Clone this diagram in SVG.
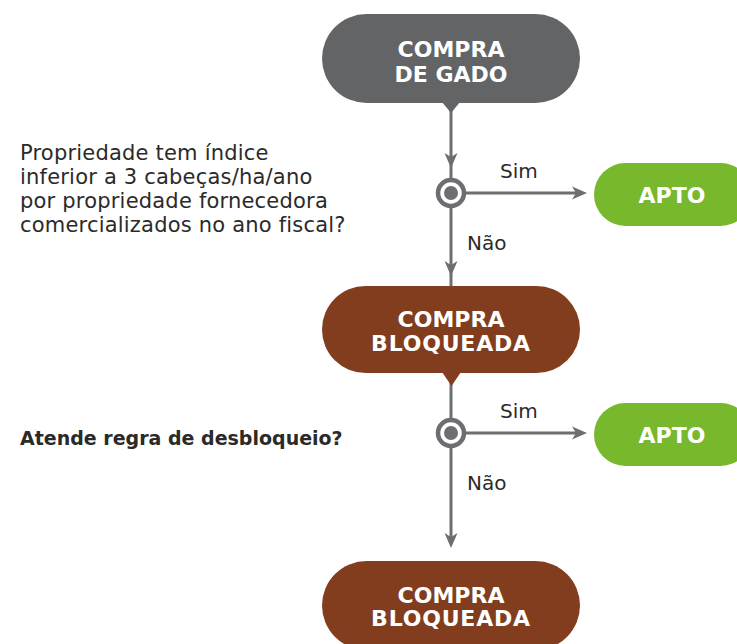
<svg xmlns="http://www.w3.org/2000/svg" width="737" height="644" viewBox="0 0 737 644">
<defs>
<style>
.ln{stroke:#6d6e71;stroke-width:3;fill:none}
.ah{fill:#6d6e71}
.ring{fill:#fff;stroke:#6d6e71;stroke-width:4.5}
.dot{fill:#6d6e71}
.nt{font-family:"DejaVu Sans",sans-serif;font-weight:bold;font-size:22px;fill:#fff;text-anchor:middle}
.q{font-family:"DejaVu Sans",sans-serif;font-size:21px;letter-spacing:0.2px;fill:#2b2a29}
.qb{font-family:"DejaVu Sans",sans-serif;font-weight:bold;font-size:19px;fill:#2b2a29}
.lb{font-family:"DejaVu Sans",sans-serif;font-size:20px;fill:#2b2a29}
</style>
<path id="arrD" d="M0,0 L-6.5,-15 L0,-11 L6.5,-15 Z"/>
<path id="arrR" d="M0,0 L-15,-6.5 L-11,0 L-15,6.5 Z"/>
</defs>
<g id="connectors">
<line class="ln" x1="451" y1="105" x2="451" y2="180"/>
<use href="#arrD" class="ah" x="451" y="168"/>
<line class="ln" x1="466" y1="193" x2="580" y2="193"/>
<use href="#arrR" class="ah" x="587" y="193"/>
<line class="ln" x1="451" y1="206" x2="451" y2="287"/>
<use href="#arrD" class="ah" x="451" y="276"/>
<line class="ln" x1="451" y1="375" x2="451" y2="420"/>
<line class="ln" x1="466" y1="433" x2="580" y2="433"/>
<use href="#arrR" class="ah" x="587" y="433"/>
<line class="ln" x1="451" y1="446" x2="451" y2="540"/>
<use href="#arrD" class="ah" x="451" y="548"/>
<g id="decision1"><circle class="ring" cx="451" cy="193" r="13"/><circle class="dot" cx="451" cy="193" r="7"/></g>
<g id="decision2"><circle class="ring" cx="451" cy="433" r="13"/><circle class="dot" cx="451" cy="433" r="7"/></g>
<text class="lb" x="500" y="178">Sim</text>
<text class="lb" x="467" y="250">Não</text>
<text class="lb" x="500" y="418">Sim</text>
<text class="lb" x="467" y="490">Não</text>
</g>
<g id="node-compra-gado">
<rect x="322" y="14" width="258" height="89" rx="44.5" fill="#636466"/>
<path d="M442,102 L460,102 L451,113 Z" fill="#636466"/>
<text class="nt" x="451" y="57">COMPRA</text>
<text class="nt" x="451" y="82">DE GADO</text>
</g>
<g id="question1">
<text class="q" x="20" y="160">Propriedade tem índice</text>
<text class="q" x="20" y="184">inferior a 3 cabeças/ha/ano</text>
<text class="q" x="20" y="208">por propriedade fornecedora</text>
<text class="q" x="20" y="232">comercializados no ano fiscal?</text>
</g>
<g id="node-apto1">
<rect x="594" y="163" width="158" height="63" rx="31.5" fill="#77b82d"/>
<text class="nt" x="672" y="203">APTO</text>
</g>
<g id="node-bloqueada1">
<rect x="322" y="286" width="258" height="87" rx="43.5" fill="#823d1e"/>
<path d="M442,372 L461,372 L451.5,386 Z" fill="#823d1e"/>
<text class="nt" x="451" y="327">COMPRA</text>
<text class="nt" x="451" y="351" letter-spacing="0.8">BLOQUEADA</text>
</g>
<g id="question2">
<text class="qb" x="20" y="445">Atende regra de desbloqueio?</text>
</g>
<g id="node-apto2">
<rect x="594" y="403" width="158" height="63" rx="31.5" fill="#77b82d"/>
<text class="nt" x="672" y="443">APTO</text>
</g>
<g id="node-bloqueada2">
<rect x="322" y="561" width="258" height="89" rx="44.5" fill="#823d1e"/>
<text class="nt" x="451" y="603">COMPRA</text>
<text class="nt" x="451" y="626" letter-spacing="0.8">BLOQUEADA</text>
</g>
</svg>
